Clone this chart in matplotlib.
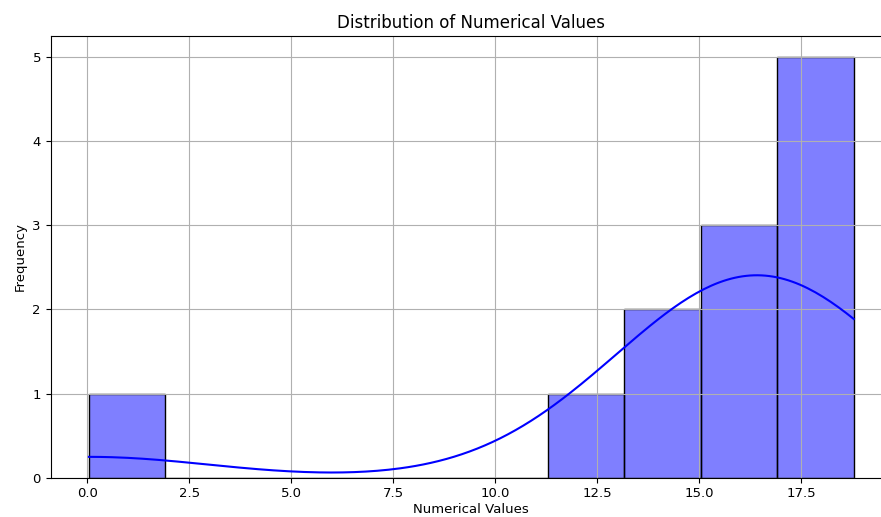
import matplotlib
matplotlib.use("Agg")
import matplotlib.pyplot as plt
import seaborn as sns
import numpy as np

values = [0.04, 13.1, 14.7, 15.0, 15.5, 16.0, 16.6, 17.0, 17.3, 17.6, 18.0, 18.79]

W, H = 881, 517
fig = plt.figure(figsize=(W / 100, H / 100), dpi=100)
ax = fig.add_axes([50.7 / W, (H - 477.7) / H, (892 - 50.7) / W, (477.7 - 36) / H])
sns.histplot(values, bins=10, kde=True, color="blue", edgecolor="black", alpha=0.5, ax=ax)
ax.set_title("Distribution of Numerical Values", fontsize=12)
ax.set_xlabel("Numerical Values", fontsize=9.5, labelpad=2)
ax.set_ylabel("Frequency", fontsize=9.5)
ax.tick_params(labelsize=9.5)
ax.spines["right"].set_visible(False)
ax.grid(True)
fig.savefig("out.png", dpi=100)
